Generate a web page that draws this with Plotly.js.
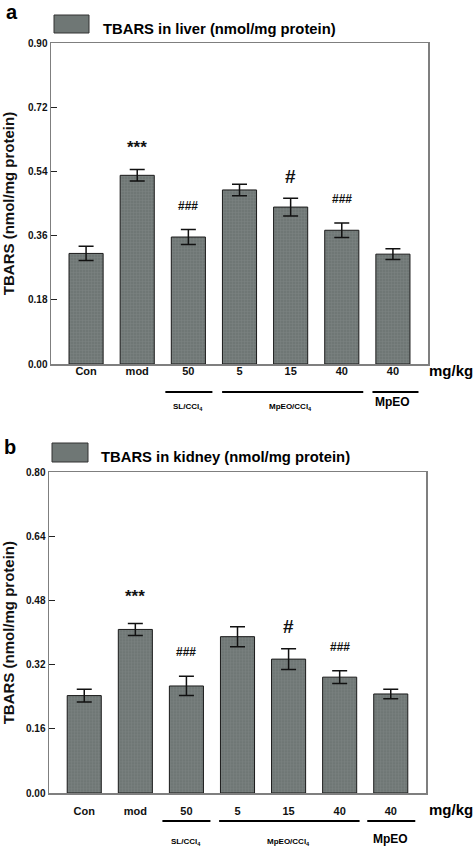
<!DOCTYPE html>
<html><head><meta charset="utf-8">
<script src="https://cdn.plot.ly/plotly-3.0.1.min.js"></script>
<style>html,body{margin:0;padding:0;background:#fff}#chart{width:473px;height:849px}</style>
</head><body><div id="chart"></div>
<script>
const categories = ['Con','mod','50','5','15','40','40'];
const liverMeans = [0.310,0.529,0.356,0.488,0.440,0.375,0.308];
const liverErr   = [0.020,0.016,0.021,0.016,0.025,0.020,0.015];
const kidneyMeans = [0.243,0.408,0.267,0.390,0.334,0.289,0.247];
const kidneyErr   = [0.016,0.015,0.024,0.025,0.026,0.016,0.012];
const sigMarks = ['', '***', '###', '', '#', '###', ''];
const liverTicks = [0,0.18,0.36,0.54,0.72,0.90];
const kidneyTicks = [0,0.16,0.32,0.48,0.64,0.80];
const groupLabels = ['SL/CCl<sub>4</sub>', 'MpEO/CCl<sub>4</sub>', 'MpEO'];
const unitLabel = 'mg/kg';
const liverLegend = 'TBARS in liver (nmol/mg protein)';
const kidneyLegend = 'TBARS in kidney (nmol/mg protein)';
const yTitle = 'TBARS (nmol/mg protein)';

const FONT = 'Liberation Sans, Arial, sans-serif';
const BAR = '#6f7775';
const xs = categories.map((_, i) => i);
const H = 849, W = 473;
const py = p => 1 - p / H;
const px = p => p / W;

function barTrace(vals, errs, xa, ya) {
  return {
    type: 'bar', x: xs, y: vals, xaxis: xa, yaxis: ya, width: 0.667,
    marker: {color: BAR, line: {color: '#1a1a1a', width: 1},
      pattern: {shape: '+', size: 3, solidity: 0.25, bgcolor: BAR, fgcolor: '#838b89', fgopacity: 0.8}},
    error_y: {type: 'data', array: errs, visible: true, color: '#111', thickness: 1.5, width: 7.5},
    showlegend: false, hoverinfo: 'skip'
  };
}

function yAxis(domain, ticks, anchor) {
  return {
    domain: domain, anchor: anchor, range: [0, ticks[ticks.length-1]],
    tickvals: ticks, ticktext: ticks.map(t => t.toFixed(2)),
    ticks: 'inside', ticklen: 6, tickwidth: 1.2, tickcolor: '#222',
    showline: true, linecolor: '#7f7f7f', linewidth: 1.5, mirror: true,
    showgrid: false, zeroline: false,
    tickfont: {family: FONT, size: 10, color: '#111', weight: 'bold'},
    title: {text: yTitle, font: {family: FONT, size: 15, color: '#111', weight: 'bold'}, standoff: 10}
  };
}
function xAxis(domain, anchor, range, standoff) {
  return {
    domain: domain, anchor: anchor, range: range,
    tickvals: xs, ticktext: categories, ticks: '', ticklabelstandoff: standoff,
    showline: true, linecolor: '#7f7f7f', linewidth: 1.5, mirror: true,
    showgrid: false, zeroline: false, fixedrange: true,
    tickfont: {family: FONT, size: 11, color: '#111', weight: 'bold'}
  };
}

const data = [
  barTrace(liverMeans, liverErr, 'x', 'y'),
  barTrace(kidneyMeans, kidneyErr, 'x2', 'y2')
];

const annotations = [];
const shapes = [];
function sig(vals, errs, xa, ya, starShift) {
  sigMarks.forEach((m, i) => {
    if (!m) return;
    const big = m === '#';
    const star = m === '***';
    annotations.push({
      xref: xa, yref: ya, x: i, y: vals[i] + errs[i], text: m, showarrow: false,
      yanchor: 'middle', yshift: star ? starShift : (big ? 22 : 24),
      font: {family: FONT, size: star ? 17 : (big ? 19 : 12), color: '#111', weight: 'bold'}
    });
  });
}
sig(liverMeans, liverErr, 'x', 'y', 22);
sig(kidneyMeans, kidneyErr, 'x2', 'y2', 27);

function panelDecor(label, lx, ly, legText, box, textX, textY, xa, unitY, lineY, grpY, spans) {
  annotations.push({xref: 'paper', yref: 'paper', x: px(lx), y: py(ly), xanchor: 'left', yanchor: 'middle',
    text: label, showarrow: false, font: {family: FONT, size: 20, color: '#000', weight: 'bold'}});
  shapes.push({type: 'rect', xref: 'paper', yref: 'paper', x0: px(box[0]), x1: px(box[1]), y0: py(box[3]), y1: py(box[2]),
    fillcolor: BAR, line: {color: '#333', width: 1}});
  annotations.push({xref: 'paper', yref: 'paper', x: px(textX), y: py(textY), xanchor: 'left', yanchor: 'middle',
    text: legText, showarrow: false, font: {family: FONT, size: 14.8, color: '#000', weight: 'bold'}});
  annotations.push({xref: 'paper', yref: 'paper', x: px(451), y: py(unitY), xanchor: 'center', yanchor: 'middle',
    text: unitLabel, showarrow: false, font: {family: FONT, size: 15, color: '#000', weight: 'bold'}});
  spans.forEach(s => shapes.push({type: 'line', xref: xa, yref: 'paper', x0: s[0], x1: s[1], y0: py(lineY), y1: py(lineY),
    line: {color: '#000', width: 2}}));
  groupLabels.forEach((g, k) => annotations.push({xref: xa, yref: 'paper', x: [2, 4, 6][k], y: py(grpY[k]),
    xanchor: 'center', yanchor: 'middle', text: g, showarrow: false,
    font: {family: FONT, size: k === 2 ? 12 : 8, color: '#000', weight: 'bold'}}));
}
panelDecor('a', 4, 12, liverLegend, [54, 89, 15, 33], 101, 29, 'x', 370, 392, [407, 407, 402],
  [[1.55, 2.47], [2.66, 5.42], [5.6, 6.5]]);
panelDecor('b', 2, 447, kidneyLegend, [52, 88, 443, 462], 99, 457, 'x2', 809, 821, [842, 842, 839],
  [[1.53, 2.47], [2.64, 5.39], [5.54, 6.48]]);

const layout = {
  width: W, height: H, margin: {l: 0, r: 0, t: 0, b: 0},
  paper_bgcolor: '#fff', plot_bgcolor: '#fff', showlegend: false, bargap: 0.33,
  xaxis: xAxis([px(51), px(428)], 'y', [-0.686, 6.686], -4),
  yaxis: yAxis([py(364), py(43)], liverTicks, 'x'),
  xaxis2: xAxis([px(49), px(426)], 'y2', [-0.69, 6.69], 7),
  yaxis2: yAxis([py(793), py(472.3)], kidneyTicks, 'x2'),
  annotations: annotations, shapes: shapes
};
Plotly.newPlot('chart', data, layout, {displayModeBar: false, staticPlot: true});
</script></body></html>
